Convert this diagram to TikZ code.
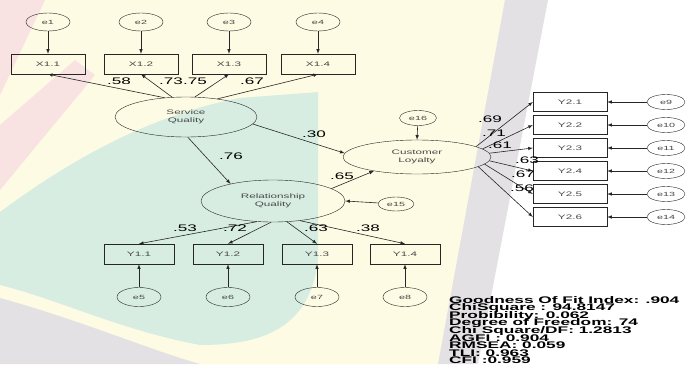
\documentclass[tikz,border=0pt]{standalone}
\usepackage{fontspec}
\setmainfont{Liberation Sans}
\newfontfamily\amosfont[FakeStretch=1.8]{Liberation Sans}
\usetikzlibrary{shapes,arrows,calc}

\definecolor{linegray}{HTML}{262626}
\definecolor{textgray}{HTML}{484848}
\definecolor{cream}{HTML}{FDFBE3}
\definecolor{tealbg}{HTML}{D7EDE2}
\definecolor{graybg}{HTML}{E3E1E3}
\definecolor{pinkbg}{HTML}{F8E2E2}
\newcommand{\tightlines}{\setlength{\lineskiplimit}{-20pt}}

\begin{document}
\begin{tikzpicture}[x=1pt,y=-1pt]
      \tikzset{err/.style={draw=linegray, ellipse, inner sep=0pt,
          minimum width=44pt, minimum height=18pt,
          font=\amosfont\fontsize{6}{6}\selectfont, text=textgray},
        obs/.style={draw=linegray, rectangle, inner sep=0pt,
          minimum width=74pt, minimum height=20pt,
          font=\amosfont\fontsize{6.5}{6.5}\selectfont, text=textgray},
        lat/.style={draw=linegray, ellipse, inner sep=0pt, align=center,
          font=\amosfont\fontsize{6.5}{7.5}\selectfont, text=textgray},
        coef/.style={inner sep=0pt, font=\amosfont\fontsize{9.5}{9.5}\selectfont},
        reg/.style={draw=linegray, line width=0.6pt, -latex}
      }
      \useasboundingbox (0,0) rectangle (695,364);
      % background
      \fill[white] (0,0) rectangle (695,364);
      \fill[cream] (0,0) -- (510,0) -- (445,364) -- (0,364) -- cycle;
      \fill[graybg] (505,0) -- (548,0) -- (478,364) -- (438,364) -- cycle;
      \fill[pinkbg] (0,0) -- (45,0) -- (0,95) -- cycle;
      \fill[pinkbg] (0,125) -- (0,190) -- (95,75) -- (75,60) -- cycle;
      \fill[tealbg] (0,212) .. controls (70,160) and (150,115) .. (240,98)
        -- (318,92) -- (318,260) .. controls (310,330) and (260,345) .. (200,345)
        .. controls (120,330) and (60,300) .. (0,285) -- cycle;
      \fill[graybg] (0,298) .. controls (80,320) and (150,350) .. (200,364)
        -- (0,364) -- cycle;

      % measurement of service quality
      \node [err] (e1) at (48,22) {e1};
      \node [err] (e2) at (141,22) {e2};
      \node [err] (e3) at (229,22) {e3};
      \node [err] (e4) at (318,22) {e4};
      \node [obs] (X11) at (48,64) {X1.1};
      \node [obs] (X12) at (141,64) {X1.2};
      \node [obs] (X13) at (229,64) {X1.3};
      \node [obs] (X14) at (318,64) {X1.4};

      \node [lat, minimum width=142pt, minimum height=40pt] (SQ) at (186,117) {Service\\Quality};
      \node [lat, minimum width=144pt, minimum height=42pt] (RQ) at (273,201) {Relationship\\Quality};
      \node [lat, minimum width=148pt, minimum height=34pt] (CL) at (417,157) {Customer\\Loyalty};
      \node [err, minimum width=37pt, minimum height=15pt] (e16) at (418,118) {e16};
      \node [err, minimum width=36pt, minimum height=14pt] (e15) at (396,204) {e15};

      % measurement of relationship quality
      \node [obs, minimum width=70pt] (Y11) at (139,254) {Y1.1};
      \node [obs, minimum width=70pt] (Y12) at (228,254) {Y1.2};
      \node [obs, minimum width=70pt] (Y13) at (317,254) {Y1.3};
      \node [obs, minimum width=70pt] (Y14) at (405,254) {Y1.4};
      \node [err, minimum height=19pt] (e5) at (139,297) {e5};
      \node [err, minimum height=19pt] (e6) at (228,297) {e6};
      \node [err, minimum height=19pt] (e7) at (317,297) {e7};
      \node [err, minimum height=19pt] (e8) at (405,297) {e8};

      % measurement of customer loyalty
      \node [obs, minimum height=19pt] (Y21) at (570,102) {Y2.1};
      \node [obs, minimum height=19pt] (Y22) at (570,125) {Y2.2};
      \node [obs, minimum height=19pt] (Y23) at (570,148) {Y2.3};
      \node [obs, minimum height=19pt] (Y24) at (570,171) {Y2.4};
      \node [obs, minimum height=19pt] (Y25) at (570,194) {Y2.5};
      \node [obs, minimum height=19pt] (Y26) at (570,217) {Y2.6};
      \node [err, minimum width=38pt, minimum height=15pt] (e9) at (666,102) {e9};
      \node [err, minimum width=38pt, minimum height=15pt] (e10) at (666,125) {e10};
      \node [err, minimum width=38pt, minimum height=15pt] (e11) at (666,148) {e11};
      \node [err, minimum width=38pt, minimum height=15pt] (e12) at (666,171) {e12};
      \node [err, minimum width=38pt, minimum height=15pt] (e13) at (666,194) {e13};
      \node [err, minimum width=38pt, minimum height=15pt] (e14) at (666,217) {e14};

      \draw [reg] (e1)--(X11);
      \draw [reg] (e2)--(X12);
      \draw [reg] (e3)--(X13);
      \draw [reg] (e4)--(X14);
      \draw [reg] (SQ.138)--(X11.south);
      \draw [reg] (SQ.125)--(X12.south);
      \draw [reg] (SQ.66)--(X13.south);
      \draw [reg] (SQ.30)--(X14.south);

      \draw [reg] (SQ.-6)--(CL.177);
      \draw [reg] (SQ.275)--(RQ.158);
      \draw [reg] (RQ.12)--(CL.198);
      \draw [reg] (e16)--(CL.north);
      \draw [reg] (e15)--(RQ.east);

      \draw [reg] (RQ.232)--(Y11.north);
      \draw [reg] (RQ.265)--(Y12.north);
      \draw [reg] (RQ.304)--(Y13.north);
      \draw [reg] (RQ.324)--(Y14.north);
      \draw [reg] (e5)--(Y11);
      \draw [reg] (e6)--(Y12);
      \draw [reg] (e7)--(Y13);
      \draw [reg] (e8)--(Y14);

      \draw [reg] (CL.10)--(Y21.west);
      \draw [reg] (CL.7)--(Y22.west);
      \draw [reg] (CL.3)--(Y23.west);
      \draw [reg] (CL.-3)--(Y24.west);
      \draw [reg] (CL.-6)--(Y25.west);
      \draw [reg] (CL.-9)--(Y26.west);
      \draw [reg] (e9)--(Y21);
      \draw [reg] (e10)--(Y22);
      \draw [reg] (e11)--(Y23);
      \draw [reg] (e12)--(Y24);
      \draw [reg] (e13)--(Y25);
      \draw [reg] (e14)--(Y26);

      % standardized estimates
      \node [coef] (c1) at (119,81) {.58};
      \node [coef] (c2) at (171,81) {.73};
      \node [coef] (c3) at (195,81) {.75};
      \node [coef] (c4) at (252,81) {.67};
      \node [coef] (c5) at (314,134) {.30};
      \node [coef] (c6) at (231,156) {.76};
      \node [coef] (c7) at (342,176) {.65};
      \node [coef] (c8) at (185,228) {.53};
      \node [coef] (c9) at (235,228) {.72};
      \node [coef] (c10) at (316,228) {.63};
      \node [coef] (c11) at (368,228) {.38};
      \node [coef] (c12) at (490,119) {.69};
      \node [coef] (c13) at (494,133) {.71};
      \node [coef] (c14) at (500,145) {.61};
      \node [coef] (c15) at (527,160) {.63};
      \node [coef] (c16) at (523,174) {.67};
      \node [coef] (c17) at (522,188) {.56};

      \node [anchor=north west, align=left, inner sep=0pt,
        font=\amosfont\bfseries\fontsize{9.6}{7.6}\selectfont\tightlines] (fit) at (449,296)
        {Goodness Of Fit Index: .904\\
         ChiSquare : 94.8147\\
         Probibility: 0.062\\
         Degree of Freedom: 74\\
         Chi Square/DF: 1.2813\\
         AGFI : 0.904\\
         RMSEA: 0.059\\
         TLI: 0.963\\
         CFI :0.959};
    \end{tikzpicture}
\end{document}
